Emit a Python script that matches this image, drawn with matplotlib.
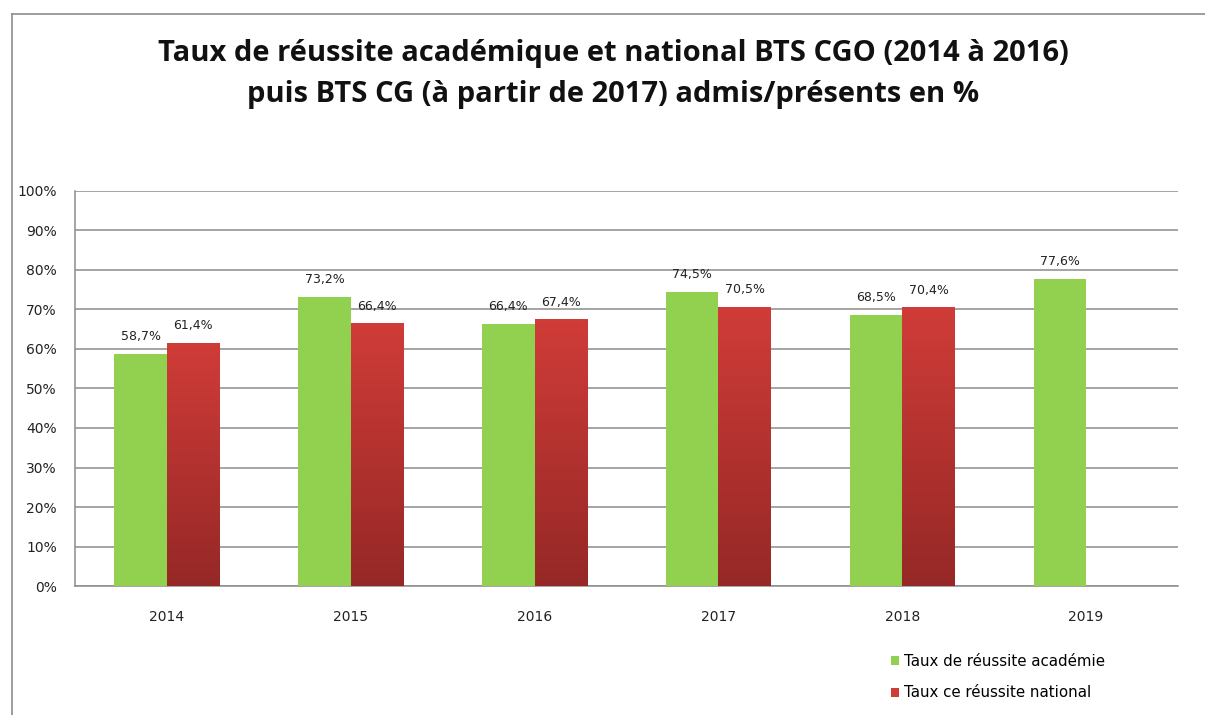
import numpy as np
import matplotlib.pyplot as plt
from matplotlib.lines import Line2D
from matplotlib.patches import Patch
from matplotlib.colors import LinearSegmentedColormap

# === Data ===
years = ['2014', '2015', '2016', '2017', '2018', '2019']
academie = [58.7, 73.2, 66.4, 74.5, 68.5, 77.6]
national = [61.4, 66.4, 67.4, 70.5, 70.4, np.nan]
yticks = [0, 10, 20, 30, 40, 50, 60, 70, 80, 90, 100]

GREEN = '#92d050'
RED_TOP = '#d03c38'
RED_BOT = '#952826'
TXT = '#222222'
SMALL = ['DejaVu Sans']

plt.rcParams['font.family'] = ['Open Sans', 'DejaVu Sans']

fig = plt.figure(figsize=(12.05, 7.15), dpi=100)
ax = fig.add_axes([0.0622, 0.1804, 0.9154, 0.5525])

x = np.arange(len(years))
w = 0.285

ax.bar(x - w / 2, academie, width=w, color=GREEN, zorder=3)

# red bars with a vertical gradient
red_cmap = LinearSegmentedColormap.from_list('red', [RED_BOT, RED_TOP])
grad = np.linspace(0, 1, 256).reshape(-1, 1)
for xi, v in zip(x, national):
    if np.isnan(v):
        continue
    ax.imshow(grad, cmap=red_cmap, origin='lower', aspect='auto',
              extent=(xi, xi + w, 0, v), zorder=3)

# data labels
for xi, v in zip(x, academie):
    ax.annotate(f'{v:.1f}%'.replace('.', ','), (xi - w / 2, v), xytext=(0, 8),
                textcoords='offset points', ha='center', va='bottom',
                fontsize=9, family=SMALL, color=TXT, zorder=4)
for xi, v in zip(x, national):
    if np.isnan(v):
        continue
    ax.annotate(f'{v:.1f}%'.replace('.', ','), (xi + w / 2, v), xytext=(0, 8),
                textcoords='offset points', ha='center', va='bottom',
                fontsize=9, family=SMALL, color=TXT, zorder=4)

ax.set_xlim(-0.5, len(years) - 0.5)
ax.set_ylim(0, 100)
ax.set_yticks(yticks)
ax.set_yticklabels([f'{t}%' for t in yticks], family=SMALL)
ax.set_xticks(x)
ax.set_xticklabels(years, family=SMALL)
ax.tick_params(axis='both', length=0, labelsize=10, colors=TXT)
ax.tick_params(axis='y', pad=13)
ax.tick_params(axis='x', pad=17)

ax.yaxis.grid(True, color='#8c8c8c', linewidth=1.1, zorder=0)
ax.set_axisbelow(True)
for s in ['top', 'right']:
    ax.spines[s].set_visible(False)
ax.spines['left'].set_color('#8c8c8c')
ax.spines['bottom'].set_color('#8c8c8c')
ax.spines['left'].set_linewidth(1.1)
ax.spines['bottom'].set_linewidth(1.1)

fig.text(0.509, 0.896, 'Taux de réussite académique et national BTS CGO (2014 à 2016)\n'
         'puis BTS CG (à partir de 2017) admis/présents en %',
         ha='center', va='center', fontsize=21, fontweight='bold',
         linespacing=1.55, color='#111111')

handles = [Patch(facecolor=GREEN), Patch(facecolor=RED_TOP)]
fig.legend(handles, ['Taux de réussite académie', 'Taux ce réussite national'],
           loc='upper left', bbox_to_anchor=(0.733, 0.096), frameon=False,
           prop={'family': SMALL, 'size': 10.8}, handlelength=0.55, handleheight=0.55,
           handletextpad=0.3, labelspacing=1.1, borderpad=0)

# outer frame of the chart
fig.add_artist(Line2D([0.01, 1.0], [0.980, 0.980], color='#8c8c8c', linewidth=1.2))
fig.add_artist(Line2D([0.01, 0.01], [0.0, 0.980], color='#8c8c8c', linewidth=1.2))

fig.savefig('out.png', dpi=100)
